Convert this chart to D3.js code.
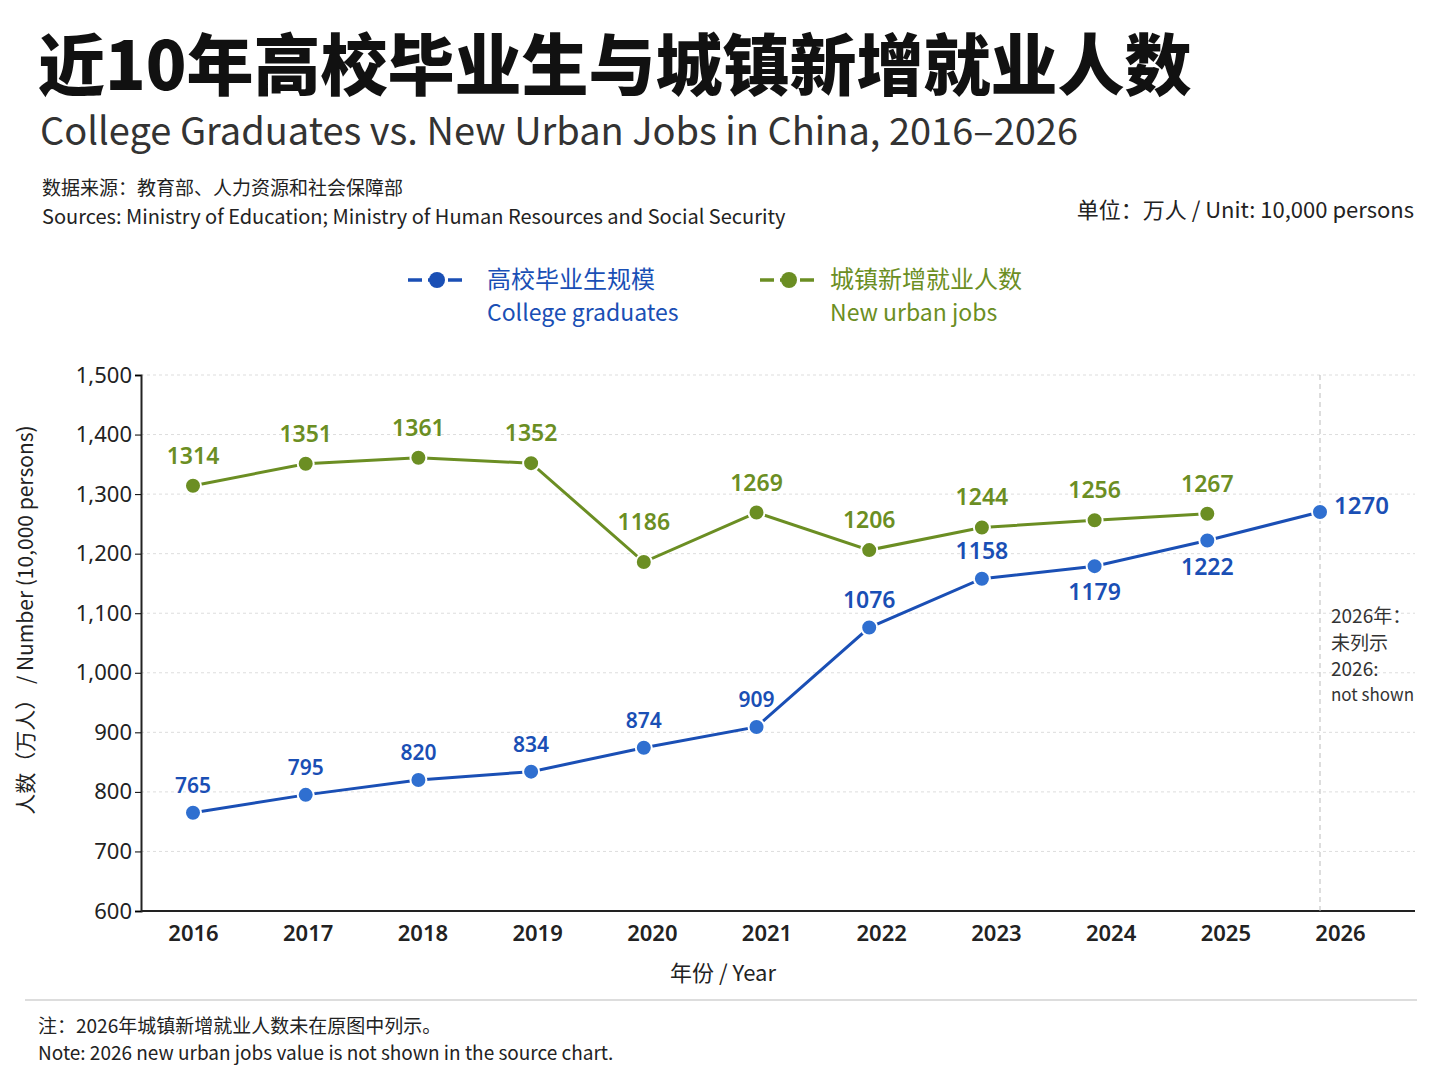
<!DOCTYPE html><html><head><meta charset="utf-8"><script src="https://cdn.jsdelivr.net/npm/d3@7"></script>
<style>body{margin:0;background:#fff}svg{font-family:"Noto Sans CJK SC","Noto Sans",sans-serif}</style></head><body>
<svg id="c" width="1448" height="1086"></svg>
<script>
const years=[2016,2017,2018,2019,2020,2021,2022,2023,2024,2025,2026];
const grads=[765,795,820,834,874,909,1076,1158,1179,1222,1270];
const jobs=[1314,1351,1361,1352,1186,1269,1206,1244,1256,1267];
const yTicks=[600,700,800,900,1000,1100,1200,1300,1400,1500];
const gradBelow=[2024,2025];
const blue="#1a4fb5",green="#6b8e23";
const svg=d3.select("#c");
const x=d3.scaleLinear().domain([2016,2026]).range([193,1320]);
const y=d3.scaleLinear().domain([600,1500]).range([911,375]);
const t=(px,py,s,o)=>{const e=svg.append("text").attr("x",px).attr("y",py).text(s);for(const k in o)e.attr(k,o[k]);return e;};
t(38,90,"近10年高校毕业生与城镇新增就业人数",{"font-size":67,"font-weight":900,fill:"#111"});
t(40,145,"College Graduates vs. New Urban Jobs in China, 2016–2026",{"font-size":38,fill:"#333"});
t(42,195,"数据来源：教育部、人力资源和社会保障部",{"font-size":19,fill:"#222"});
t(42,224,"Sources: Ministry of Education; Ministry of Human Resources and Social Security",{"font-size":20,fill:"#222"});
t(1414,218,"单位：万人  /  Unit: 10,000 persons",{"font-size":22,fill:"#222","text-anchor":"end"});
[[408,blue,"高校毕业生规模","College graduates",487],[760,green,"城镇新增就业人数","New urban jobs",830]].forEach(([lx,c,a,b,tx])=>{
 svg.append("line").attr("x1",lx).attr("x2",lx+57).attr("y1",280).attr("y2",280).attr("stroke",c).attr("stroke-width",3.5).attr("stroke-dasharray","14,6");
 svg.append("circle").attr("cx",lx+29).attr("cy",280).attr("r",8).attr("fill",c);
 t(tx,288,a,{"font-size":24,fill:c});t(tx,321,b,{"font-size":23,fill:c});
});
yTicks.forEach(v=>{ if(v>600) svg.append("line").attr("x1",141).attr("x2",1415).attr("y1",y(v)).attr("y2",y(v)).attr("stroke","#ddd").attr("stroke-dasharray","3,3");});
const ya=svg.append("g").attr("transform","translate(141,0)").call(d3.axisLeft(y).tickValues(yTicks).tickFormat(d3.format(",")).tickSize(6));
ya.selectAll("text").attr("font-size",22).attr("fill","#222").attr("font-family","Noto Sans");
const xa=svg.append("g").attr("transform","translate(0,911)").call(d3.axisBottom(x).tickValues(years).tickFormat(d=>d).tickSize(0).tickPadding(14));
xa.select(".domain").attr("d","M141,0H1415");
xa.selectAll("text").attr("font-size",22).attr("fill","#222").attr("font-weight",600).attr("font-family","Noto Sans").attr("dx",d=>(d-2016)*2);
svg.selectAll(".domain").attr("stroke","#222").attr("stroke-width",2);
svg.append("line").attr("x1",x(2026)).attr("x2",x(2026)).attr("y1",375).attr("y2",911).attr("stroke","#bbb").attr("stroke-dasharray","5,4");
t(33,620,"人数（万人） / Number (10,000 persons)",{"font-size":21,fill:"#222","text-anchor":"middle",transform:"rotate(-90 33 620)"});
t(723,981,"年份 / Year",{"font-size":22,fill:"#222","text-anchor":"middle"});
const line=d3.line().x((d,i)=>x(years[i])).y(d=>y(d));
svg.append("path").attr("d",line(jobs)).attr("fill","none").attr("stroke",green).attr("stroke-width",3);
svg.append("path").attr("d",line(grads)).attr("fill","none").attr("stroke",blue).attr("stroke-width",3);
jobs.forEach((v,i)=>{svg.append("circle").attr("cx",x(years[i])).attr("cy",y(v)).attr("r",8).attr("fill",green).attr("stroke","#fff").attr("stroke-width",2);
 t(x(years[i]),y(v)-(years[i]===2020?32:22),v,{"font-size":23,"font-weight":600,fill:green,"text-anchor":"middle","font-family":"Noto Sans"});});
grads.forEach((v,i)=>{svg.append("circle").attr("cx",x(years[i])).attr("cy",y(v)).attr("r",8).attr("fill","#2f6fd0").attr("stroke","#fff").attr("stroke-width",2);
 const yr=years[i];
 if(yr===2026) t(x(yr)+14,y(v)+2,v,{"font-size":24,"font-weight":600,fill:blue,"font-family":"Noto Sans"});
 else t(x(yr),gradBelow.includes(yr)?y(v)+34:y(v)-20,v,{"font-size":yr>=2022?23:21,"font-weight":600,fill:blue,"text-anchor":"middle","font-family":"Noto Sans"});});
t(1331,623,"2026年：",{"font-size":19,fill:"#333"});t(1331,650,"未列示",{"font-size":19,fill:"#333"});
t(1331,676,"2026:",{"font-size":19,fill:"#333"});t(1331,701,"not shown",{"font-size":17,fill:"#333"});
svg.append("line").attr("x1",25).attr("x2",1417).attr("y1",1000).attr("y2",1000).attr("stroke","#bbb");
t(38,1033,"注：2026年城镇新增就业人数未在原图中列示。",{"font-size":19,fill:"#222"});
t(38,1060,"Note: 2026 new urban jobs value is not shown in the source chart.",{"font-size":19,fill:"#222"});
</script></body></html>
